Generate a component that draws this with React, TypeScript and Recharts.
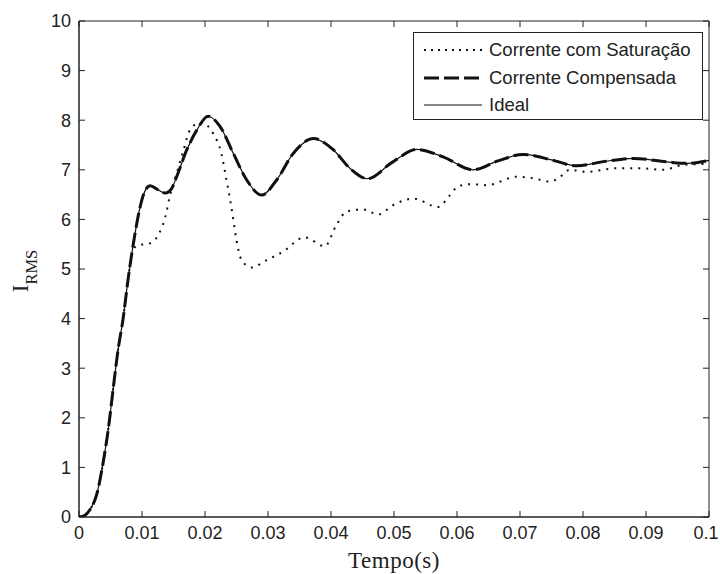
import React from "react";
import { LineChart, Line, XAxis, YAxis, ReferenceArea } from "recharts";

// tempo (s) e valores
const tempoIdeal = [
  0, 0.0005, 0.001, 0.0017, 0.0028, 0.0039, 0.0047, 0.0054, 0.0062, 0.007,
  0.0078, 0.0089, 0.0097, 0.0105, 0.0113, 0.0125, 0.0137, 0.0147, 0.0155,
  0.0171, 0.0187, 0.0205, 0.0224, 0.0245, 0.0266, 0.029, 0.0314, 0.034,
  0.0372, 0.0404, 0.043, 0.0458, 0.0497, 0.0536, 0.0578, 0.0626, 0.0665,
  0.0705, 0.075, 0.079, 0.0835, 0.088, 0.0933, 0.0965, 0.1,
];
const ideal = [
  0, 0.01, 0.04, 0.14, 0.45, 1.15, 1.82, 2.56, 3.37, 4.0, 4.8, 5.72, 6.25,
  6.58, 6.68, 6.6, 6.53, 6.62, 6.86, 7.4, 7.8, 8.08, 7.87, 7.33, 6.8, 6.49,
  6.8, 7.33, 7.63, 7.4, 7.03, 6.82, 7.15, 7.41, 7.26, 7.0, 7.18, 7.31, 7.2,
  7.08, 7.17, 7.23, 7.16, 7.13, 7.19,
];
const compensada = [
  0, 0.01, 0.04, 0.14, 0.45, 1.15, 1.82, 2.56, 3.37, 4.0, 4.8, 5.72, 6.25,
  6.58, 6.68, 6.6, 6.53, 6.62, 6.86, 7.4, 7.8, 8.08, 7.87, 7.33, 6.8, 6.49,
  6.8, 7.33, 7.63, 7.4, 7.03, 6.82, 7.15, 7.41, 7.26, 7.0, 7.18, 7.31, 7.2,
  7.08, 7.17, 7.23, 7.16, 7.13, 7.19,
];

const tempoSat = [
  0, 0.0005, 0.001, 0.0017, 0.0028, 0.0039, 0.0047, 0.0054, 0.0062, 0.007,
  0.0078, 0.0085, 0.0092, 0.0105, 0.0113, 0.0126, 0.0137, 0.0144, 0.0155,
  0.0166, 0.0176, 0.0192, 0.0203, 0.0213, 0.0226, 0.0234, 0.024, 0.0245,
  0.025, 0.0258, 0.0274, 0.0298, 0.0324, 0.0358, 0.039, 0.0409, 0.0425,
  0.0451, 0.0475, 0.0499, 0.0531, 0.057, 0.0589, 0.0602, 0.0623, 0.0647,
  0.0695, 0.0721, 0.0748, 0.0761, 0.0779, 0.0806, 0.0853, 0.089, 0.0928,
  0.0959, 0.1,
];
const saturacao = [
  0, 0.01, 0.04, 0.14, 0.45, 1.15, 1.82, 2.56, 3.37, 4.0, 4.8, 5.35, 5.47,
  5.5, 5.52, 5.69, 6.05, 6.46, 6.93, 7.4, 7.8, 7.95, 7.9, 7.73, 7.33, 6.8,
  6.39, 5.99, 5.58, 5.18, 5.03, 5.18, 5.35, 5.64, 5.46, 5.9, 6.16, 6.2, 6.1,
  6.29, 6.42, 6.25, 6.49, 6.67, 6.71, 6.69, 6.86, 6.83, 6.76, 6.83, 7.0,
  6.96, 7.03, 7.03, 7.0, 7.1, 7.12,
];

const xTicks = [0, 0.01, 0.02, 0.03, 0.04, 0.05, 0.06, 0.07, 0.08, 0.09, 0.1];
const yTicks = [0, 1, 2, 3, 4, 5, 6, 7, 8, 9, 10];

const serie = (t: number[], v: number[]) => t.map((x, i) => ({ t: x, v: v[i] }));

const W = 720;
const H = 574;
const TOP = 21;
const RIGHT = 11;
const Y_W = 79;
const X_H = 57;
const PLOT_TOP = TOP;
const PLOT_RIGHT = W - RIGHT;
const X_MARGIN = 9;
const Y_MARGIN = 8;
const AXIS = "#222";
const SANS = "'Liberation Sans', Arial, sans-serif";
const SERIF = "'Liberation Serif', 'Times New Roman', serif";

function XTick(props: any) {
  const { x, y, payload } = props;
  const axisY = y - X_MARGIN;
  // keep the last label inside the picture
  const tx = Math.min(x, W - 14);
  return (
    <g>
      <line x1={x} x2={x} y1={axisY} y2={axisY - 6} stroke={AXIS} />
      <line x1={x} x2={x} y1={PLOT_TOP} y2={PLOT_TOP + 6} stroke={AXIS} />
      <text x={tx} y={y} dy="0.71em" textAnchor="middle" fontFamily={SANS} fontSize={18} fill="#222">
        {String(payload.value)}
      </text>
    </g>
  );
}

function YTick(props: any) {
  const { x, y, payload } = props;
  const axisX = x + Y_MARGIN;
  return (
    <g>
      <line x1={axisX} x2={axisX + 6} y1={y} y2={y} stroke={AXIS} />
      <line x1={PLOT_RIGHT} x2={PLOT_RIGHT - 6} y1={y} y2={y} stroke={AXIS} />
      <text x={x} y={y} dy="0.36em" textAnchor="end" fontFamily={SANS} fontSize={18} fill="#222">
        {String(payload.value)}
      </text>
    </g>
  );
}

function YLabel(props: any) {
  const vb = props.viewBox || { x: 0, y: TOP, width: Y_W, height: 496 };
  const cx = 28;
  const cy = vb.y + vb.height / 2 + 2;
  return (
    <text
      x={cx}
      y={cy}
      transform={`rotate(-90, ${cx}, ${cy})`}
      textAnchor="middle"
      fontFamily={SERIF}
      fill="#222"
    >
      <tspan fontSize={23}>I</tspan>
      <tspan fontSize={16.5} dy={9}>RMS</tspan>
    </text>
  );
}

const legendItems = [
  { label: "Corrente com Saturação", dash: "2 5", width: 2 },
  { label: "Corrente Compensada", dash: "15 5", width: 3 },
  { label: "Ideal", dash: undefined, width: 1.2 },
];

function LegendBox() {
  return (
    <div
      style={{
        position: "absolute",
        left: 413,
        top: 32,
        width: 290,
        height: 88,
        boxSizing: "border-box",
        border: `1px solid ${AXIS}`,
        background: "#fff",
        fontFamily: SANS,
        fontSize: 18.5,
        color: "#222",
      }}
    >
      {legendItems.map((it, i) => (
        <div
          key={it.label}
          style={{
            position: "absolute",
            left: 9,
            top: [6, 34, 61][i],
            height: 22,
            display: "flex",
            alignItems: "center",
            whiteSpace: "nowrap",
          }}
        >
          <svg width={60} height={22} style={{ display: "block" }}>
            <line x1={1} x2={59} y1={11} y2={11} stroke="#111" strokeWidth={it.width} strokeDasharray={it.dash} />
          </svg>
          <span style={{ marginLeft: 6, lineHeight: "22px" }}>{it.label}</span>
        </div>
      ))}
    </div>
  );
}

export default function App() {
  return (
    <div style={{ position: "absolute", left: 0, top: 0, width: W, height: H, background: "#fff" }}>
      <LineChart width={W} height={H} margin={{ top: TOP, right: RIGHT, left: 0, bottom: 0 }}>
        <XAxis
          dataKey="t"
          type="number"
          domain={[0, 0.1]}
          ticks={xTicks}
          allowDataOverflow
          height={X_H}
          tickSize={0}
          tickLine={false}
          tickMargin={X_MARGIN}
          tick={<XTick />}
          stroke={AXIS}
          label={{
            value: "Tempo(s)",
            position: "insideBottom",
            offset: 6,
            fontFamily: SERIF,
            fontSize: 23,
            letterSpacing: 0.5,
            fill: "#222",
          }}
        />
        <YAxis
          type="number"
          domain={[0, 10]}
          ticks={yTicks}
          allowDataOverflow
          width={Y_W}
          tickSize={0}
          tickLine={false}
          tickMargin={Y_MARGIN}
          tick={<YTick />}
          stroke={AXIS}
          label={(p: any) => <YLabel {...p} />}
        />
        <ReferenceArea x1={0} x2={0.1} y1={0} y2={10} fill="none" stroke={AXIS} strokeWidth={1} />
        <Line
          data={serie(tempoSat, saturacao)}
          dataKey="v"
          type="monotone"
          stroke="#111"
          strokeWidth={2}
          strokeDasharray="2 6"
          dot={false}
          isAnimationActive={false}
        />
        <Line
          data={serie(tempoIdeal, compensada)}
          dataKey="v"
          type="monotone"
          stroke="#111"
          strokeWidth={3}
          strokeDasharray="15 5"
          dot={false}
          isAnimationActive={false}
        />
        <Line
          data={serie(tempoIdeal, ideal)}
          dataKey="v"
          type="monotone"
          stroke="#111"
          strokeWidth={1.2}
          dot={false}
          isAnimationActive={false}
        />
      </LineChart>
      <LegendBox />
    </div>
  );
}
